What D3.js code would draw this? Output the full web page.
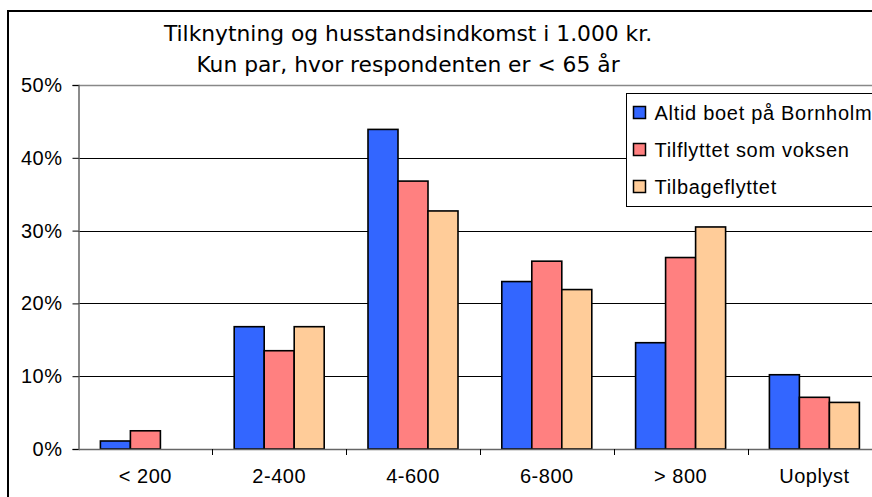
<!DOCTYPE html>
<html>
<head>
<meta charset="utf-8">
<script src="https://cdn.jsdelivr.net/npm/d3@7"></script>
<style>
  html, body { margin: 0; padding: 0; background: #fff; }
  svg { display: block; }
</style>
</head>
<body>
<div id="chart"></div>
<script>
var categories = ['< 200', '2-400', '4-600', '6-800', '> 800', 'Uoplyst'];
var seriesNames = ['Altid boet på Bornholm', 'Tilflyttet som voksen', 'Tilbageflyttet'];
var altid = [1.1, 16.8, 43.9, 23.0, 14.6, 10.2];
var tilflyttet = [2.5, 13.5, 36.8, 25.8, 26.3, 7.1];
var tilbage = [0, 16.8, 32.7, 21.9, 30.5, 6.4];
var yTicks = [0, 10, 20, 30, 40, 50];
var titleLines = ['Tilknytning og husstandsindkomst i 1.000 kr.', 'Kun par, hvor respondenten er < 65 år'];

var seriesValues = [altid, tilflyttet, tilbage];
var colors = ['#3366ff', '#ff8080', '#ffcc99'];

var W = 872, H = 497;
var plotLeft = 78.5, plotTop = 85, plotBottom = 449;
var band = 133.8;

var svg = d3.select('#chart').append('svg')
    .attr('width', W)
    .attr('height', H);

// outer chart frame (runs off the right and bottom edges)
svg.append('rect')
    .attr('x', 8).attr('y', 11)
    .attr('width', W + 20).attr('height', H + 20)
    .attr('fill', '#fff')
    .attr('stroke', '#000')
    .attr('stroke-width', 2);

var x0 = d3.scaleBand()
    .domain(categories)
    .range([plotLeft, plotLeft + band * categories.length]);

var x1 = d3.scaleBand()
    .domain(d3.range(seriesNames.length))
    .range([0, x0.bandwidth()])
    .paddingOuter(0.73);

var y = d3.scaleLinear()
    .domain([0, 50])
    .range([plotBottom, plotTop]);

// gridlines
svg.append('g')
    .selectAll('line')
    .data(yTicks.slice(1, -1))
    .enter()
    .append('line')
    .attr('x1', plotLeft).attr('x2', W)
    .attr('y1', function(d){ return Math.round(y(d)) + 0.5; })
    .attr('y2', function(d){ return Math.round(y(d)) + 0.5; })
    .attr('stroke', '#000')
    .attr('stroke-width', 1);

// plot area top border
svg.append('line')
    .attr('x1', plotLeft).attr('x2', W)
    .attr('y1', y(50) + 0.5).attr('y2', y(50) + 0.5)
    .attr('stroke', '#888')
    .attr('stroke-width', 1.5);

// bars
var groups = svg.append('g')
    .selectAll('g')
    .data(categories)
    .enter()
    .append('g')
    .attr('transform', function(d){ return 'translate(' + x0(d) + ',0)'; });

groups.selectAll('rect')
    .data(function(d, i){
        return seriesValues.map(function(s, j){ return {s: j, v: s[i]}; })
            .filter(function(e){ return e.v > 0; });
    })
    .enter()
    .append('rect')
    .attr('x', function(d){ return x1(d.s); })
    .attr('y', function(d){ return y(d.v); })
    .attr('width', x1.bandwidth())
    .attr('height', function(d){ return y(0) - y(d.v); })
    .attr('fill', function(d){ return colors[d.s]; })
    .attr('stroke', '#000')
    .attr('stroke-width', 1.6);

// y axis
var yAxis = svg.append('g')
    .attr('transform', 'translate(' + plotLeft + ',0)')
    .call(d3.axisLeft(y).tickValues(yTicks).tickSize(6).tickPadding(10)
        .tickFormat(function(d){ return d + '%'; }));
yAxis.select('.domain').attr('stroke', '#666').attr('stroke-width', 1.5);
yAxis.selectAll('.tick line').attr('stroke', '#000');
yAxis.selectAll('text')
    .attr('font-family', 'Liberation Sans, Arial, sans-serif')
    .attr('font-size', '20px')
    .attr('letter-spacing', '0.5px')
    .attr('fill', '#000');

// x axis
var xAxis = svg.append('g')
    .attr('transform', 'translate(0,' + plotBottom + ')')
    .call(d3.axisBottom(x0).tickSize(0).tickPadding(20));
xAxis.select('.domain').attr('stroke', '#666').attr('stroke-width', 1.5);
xAxis.selectAll('text')
    .attr('font-family', 'Liberation Sans, Arial, sans-serif')
    .attr('font-size', '20px')
    .attr('letter-spacing', '0.5px')
    .attr('fill', '#000');

// category boundary ticks
svg.append('g')
    .selectAll('line')
    .data(categories.slice(1))
    .enter()
    .append('line')
    .attr('x1', function(d){ return Math.round(x0(d)) + 0.5; })
    .attr('x2', function(d){ return Math.round(x0(d)) + 0.5; })
    .attr('y1', plotBottom).attr('y2', plotBottom + 6)
    .attr('stroke', '#000');

// title
svg.append('g')
    .selectAll('text')
    .data(titleLines)
    .enter()
    .append('text')
    .attr('x', 408)
    .attr('y', function(d, i){ return 41 + i * 31; })
    .attr('text-anchor', 'middle')
    .attr('font-family', 'DejaVu Sans, Verdana, sans-serif')
    .attr('font-size', '21.8px')
    .attr('fill', '#000')
    .text(function(d){ return d; });

// legend
var legend = svg.append('g').attr('transform', 'translate(626.5,93.5)');
legend.append('rect')
    .attr('width', 260).attr('height', 113)
    .attr('fill', '#fff')
    .attr('stroke', '#000')
    .attr('stroke-width', 1);

var item = legend.selectAll('.item')
    .data(seriesNames)
    .enter()
    .append('g')
    .attr('class', 'item')
    .attr('transform', function(d, i){ return 'translate(0,' + (19 + i * 37) + ')'; });

item.append('rect')
    .attr('x', 7).attr('y', -6)
    .attr('width', 12).attr('height', 12)
    .attr('fill', function(d, i){ return colors[i]; })
    .attr('stroke', '#000')
    .attr('stroke-width', 1.5);

item.append('text')
    .attr('x', 28)
    .attr('dy', '0.35em')
    .attr('font-family', 'Liberation Sans, Arial, sans-serif')
    .attr('font-size', '20px')
    .attr('letter-spacing', '0.7px')
    .attr('fill', '#000')
    .text(function(d){ return d; });
</script>
</body>
</html>
